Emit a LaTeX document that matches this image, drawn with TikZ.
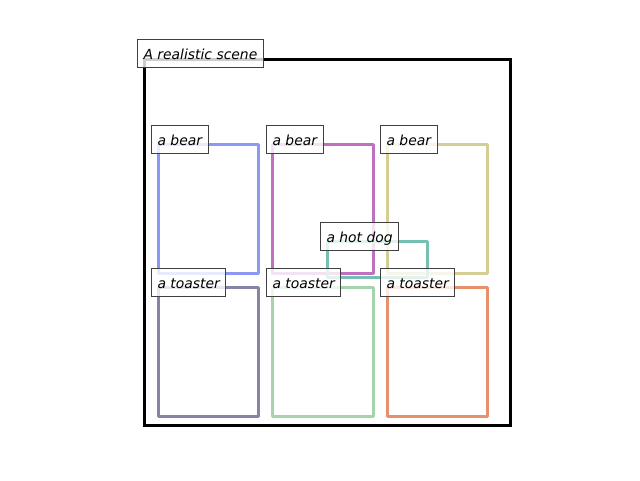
\documentclass[tikz,border=0pt]{standalone}
\usepackage{fontspec}
\setmainfont{DejaVu Sans}
\definecolor{cblue}{HTML}{8C98F6}
\definecolor{cpurple}{HTML}{C070C0}
\definecolor{colive}{HTML}{D4CE94}
\definecolor{cteal}{HTML}{74C0B2}
\definecolor{cslate}{HTML}{8484A4}
\definecolor{cgreen}{HTML}{A4D4AC}
\definecolor{corange}{HTML}{E8906C}
\definecolor{lblborder}{HTML}{404040}
\begin{document}
\begin{tikzpicture}[x=1pt,y=-1pt,
  objbox/.style={line width=3pt, line join=round, line cap=round},
  tag/.style={draw=lblborder, line width=1pt, fill=white, fill opacity=0.8,
    text opacity=1, anchor=south west, inner xsep=6pt, inner ysep=7pt,
    font=\fontsize{13.9}{16}\selectfont\itshape, text height=13pt, text depth=1.5pt}]
\useasboundingbox (0,0) rectangle (640,480);
% scene frame
\draw[line width=3pt] (144,59) rectangle (510,425);
% object boxes
\draw[objbox, cblue]   (158,144) rectangle (258,273);
\draw[objbox, cpurple] (272,144) rectangle (373,273);
\draw[objbox, colive]  (387,144) rectangle (487,273);
\draw[objbox, cteal]   (327,241) rectangle (427,277);
\draw[objbox, cslate]  (158,287) rectangle (258,416);
\draw[objbox, cgreen]  (272,287) rectangle (373,416);
\draw[objbox, corange] (387,287) rectangle (487,416);
% labels
\node[tag] (scene)   at (137,68)  {A realistic scene};
\node[tag] (bearA)   at (151,154) {a bear};
\node[tag] (bearB)   at (266,154) {a bear};
\node[tag] (bearC)   at (380,154) {a bear};
\node[tag] (hotdog)  at (320,251) {a hot dog};
\node[tag] (toastA)  at (151,297) {a toaster};
\node[tag] (toastB)  at (266,297) {a toaster};
\node[tag] (toastC)  at (380,297) {a toaster};
\end{tikzpicture}
\end{document}
